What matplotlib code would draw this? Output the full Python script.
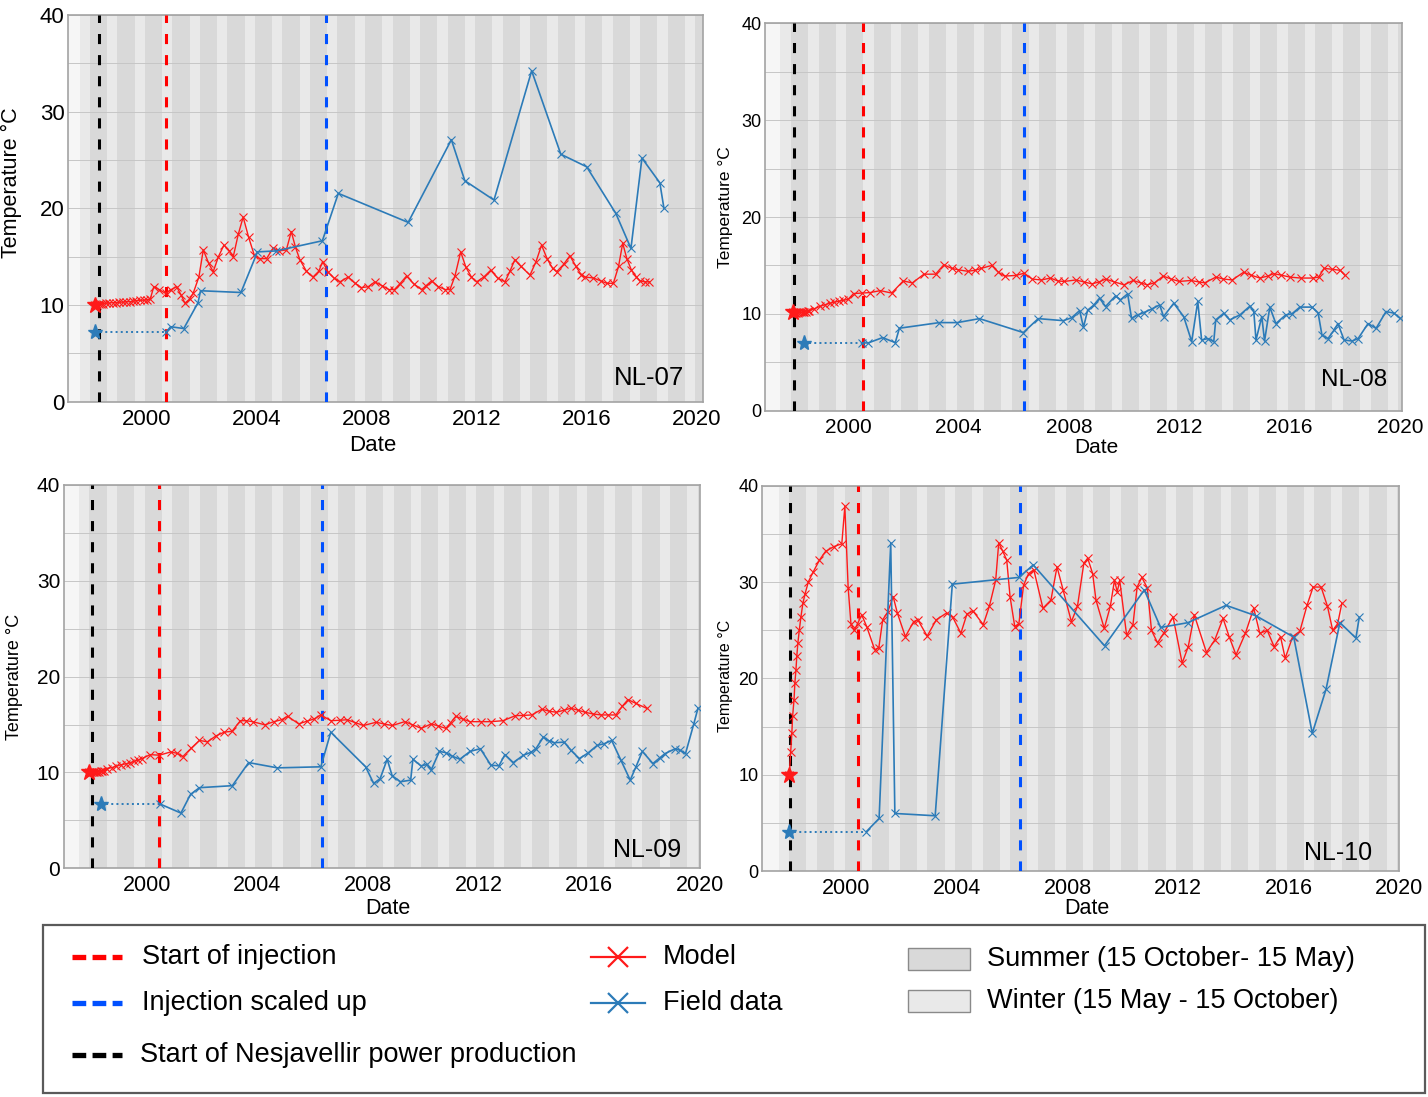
import matplotlib.pyplot as plt
from matplotlib.lines import Line2D
from matplotlib.patches import Rectangle

plt.rcParams['font.family'] = ['Liberation Sans', 'DejaVu Sans']

# ---- data (decimal year, temperature in C) ----
nl07_model = [(1998.10, 10.0), (1998.18, 10.05), (1998.26, 10.1), (1998.34, 10.1), (1998.42, 10.15),
              (1998.50, 10.2), (1998.62, 10.2), (1998.75, 10.25), (1998.88, 10.25), (1999.00, 10.3),
              (1999.12, 10.3), (1999.25, 10.35), (1999.38, 10.35), (1999.50, 10.4), (1999.62, 10.45),
              (1999.75, 10.5), (1999.88, 10.5), (2000.00, 10.55), (2000.12, 10.6),
              (2000.25, 11.9), (2000.45, 11.6), (2000.68, 11.2), (2000.88, 11.6), (2001.08, 11.9),
              (2001.25, 11.0), (2001.38, 10.2), (2001.55, 10.6), (2001.68, 11.2), (2001.89, 12.9),
              (2002.05, 15.7), (2002.25, 14.3), (2002.41, 13.45), (2002.60, 15.0), (2002.80, 16.2),
              (2003.00, 15.6), (2003.14, 15.0), (2003.32, 17.3), (2003.50, 19.1), (2003.70, 17.0),
              (2003.90, 15.2), (2004.10, 14.8), (2004.35, 14.8), (2004.59, 15.9), (2004.80, 15.6),
              (2005.07, 15.7), (2005.25, 17.6), (2005.40, 16.0), (2005.56, 14.7), (2005.80, 13.5),
              (2006.04, 12.9), (2006.25, 13.5), (2006.39, 14.5), (2006.59, 13.4), (2006.80, 12.8),
              (2007.02, 12.4), (2007.32, 12.9), (2007.55, 12.3), (2007.80, 11.8), (2008.05, 11.9),
              (2008.29, 12.4), (2008.55, 12.0), (2008.80, 11.6), (2009.00, 11.6), (2009.20, 12.2),
              (2009.44, 13.0), (2009.70, 12.2), (2009.99, 11.6), (2010.15, 12.0), (2010.35, 12.5),
              (2010.60, 11.9), (2010.85, 11.6), (2011.02, 11.6), (2011.20, 13.0), (2011.41, 15.5),
              (2011.60, 13.9), (2011.80, 12.9), (2011.99, 12.4), (2012.25, 12.9), (2012.50, 13.6),
              (2012.75, 12.8), (2013.02, 12.4), (2013.20, 13.5), (2013.38, 14.7), (2013.60, 14.0),
              (2013.93, 13.1), (2014.15, 14.5), (2014.35, 16.2), (2014.55, 14.8), (2014.75, 13.8),
              (2014.90, 13.45), (2015.15, 14.2), (2015.38, 15.1), (2015.60, 14.0), (2015.80, 13.1),
              (2015.93, 12.9), (2016.23, 12.8), (2016.50, 12.5), (2016.72, 12.25), (2016.96, 12.25),
              (2017.15, 14.0), (2017.30, 16.4), (2017.45, 14.8), (2017.62, 13.6), (2017.80, 12.9),
              (2017.93, 12.5), (2018.10, 12.4), (2018.27, 12.4)]
nl07_field = [(1998.11, 7.2), (2000.70, 7.2), (2000.86, 7.76), (2001.34, 7.57), (2001.86, 10.25),
              (2001.95, 11.48), (2003.42, 11.3), (2004.02, 15.5), (2004.70, 15.6), (2006.38, 16.65),
              (2006.96, 21.55), (2009.50, 18.55), (2011.07, 27.1), (2011.56, 22.86), (2012.62, 20.86),
              (2013.99, 34.23), (2015.05, 25.6), (2015.99, 24.3), (2017.05, 19.48), (2017.60, 15.86),
              (2018.00, 25.2), (2018.65, 22.65), (2018.80, 20.0)]
nl07_events = [1998.24, 2000.68, 2006.53]  # power production, injection start, injection scaled up

nl08_model = [(1998.00, 10.2), (1998.06, 10.1), (1998.12, 10.1), (1998.18, 10.1), (1998.24, 10.15),
              (1998.30, 10.15), (1998.36, 10.15), (1998.42, 10.2), (1998.48, 10.2), (1998.54, 10.25),
              (1998.60, 10.3), (1998.75, 10.5), (1999.00, 10.8), (1999.17, 10.95), (1999.33, 11.1),
              (1999.50, 11.2), (1999.66, 11.3), (1999.83, 11.4), (2000.00, 11.5),
              (2000.20, 12.1), (2000.50, 12.15), (2000.80, 12.2), (2001.17, 12.4), (2001.58, 12.15),
              (2002.00, 13.4), (2002.33, 13.2), (2002.75, 14.1), (2003.17, 14.1), (2003.47, 15.07),
              (2003.75, 14.7), (2004.00, 14.55), (2004.33, 14.4), (2004.60, 14.5), (2004.83, 14.7),
              (2005.20, 15.0), (2005.45, 14.3), (2005.67, 13.9), (2006.08, 13.97), (2006.38, 14.2),
              (2006.67, 13.6), (2007.00, 13.5), (2007.33, 13.7), (2007.60, 13.4), (2007.83, 13.35),
              (2008.25, 13.5), (2008.55, 13.3), (2008.83, 13.1), (2009.10, 13.3), (2009.33, 13.6),
              (2009.65, 13.3), (2010.00, 13.0), (2010.33, 13.45), (2010.60, 13.2), (2010.83, 13.0),
              (2011.10, 13.2), (2011.42, 13.9), (2011.70, 13.6), (2012.00, 13.35), (2012.42, 13.45),
              (2012.70, 13.3), (2012.92, 13.2), (2013.33, 13.8), (2013.60, 13.6), (2013.92, 13.5),
              (2014.33, 14.3), (2014.60, 14.0), (2014.92, 13.7), (2015.20, 13.9), (2015.42, 14.15),
              (2015.70, 14.0), (2016.00, 13.8), (2016.40, 13.7), (2016.83, 13.7), (2017.05, 13.8),
              (2017.25, 14.7), (2017.55, 14.6), (2017.83, 14.5), (2018.00, 14.0)]
nl08_field = [(1998.40, 7.0), (2000.52, 7.0), (2000.73, 7.0), (2001.25, 7.55), (2001.71, 7.03),
              (2001.86, 8.52), (2003.31, 9.1), (2003.96, 9.1), (2004.76, 9.51), (2006.35, 8.07),
              (2006.89, 9.51), (2007.80, 9.3), (2008.10, 9.6), (2008.39, 10.34), (2008.53, 8.62),
              (2008.68, 10.38), (2008.90, 10.9), (2009.11, 11.62), (2009.33, 10.76), (2009.69, 11.86),
              (2009.87, 11.45), (2010.13, 12.07), (2010.27, 9.55), (2010.50, 9.9), (2010.71, 10.13),
              (2011.00, 10.5), (2011.29, 10.93), (2011.43, 9.72), (2011.80, 11.1), (2012.16, 9.72),
              (2012.45, 7.14), (2012.67, 11.3), (2012.81, 7.3), (2013.03, 7.45), (2013.25, 7.14),
              (2013.32, 9.38), (2013.61, 10.06), (2013.83, 9.38), (2014.20, 9.9), (2014.56, 10.8),
              (2014.70, 10.24), (2014.78, 7.3), (2014.99, 9.72), (2015.09, 7.2), (2015.28, 10.7),
              (2015.50, 9.0), (2015.86, 9.9), (2016.08, 10.0), (2016.37, 10.7), (2016.81, 10.7),
              (2017.03, 10.1), (2017.17, 7.8), (2017.39, 7.45), (2017.60, 8.3), (2017.75, 9.0),
              (2017.97, 7.3), (2018.26, 7.2), (2018.48, 7.45), (2018.84, 9.0), (2019.13, 8.5),
              (2019.49, 10.24), (2019.78, 10.07), (2020.00, 9.55)]
nl08_events = [1998.05, 2000.53, 2006.38]

nl09_model = [(1997.93, 10.0), (1997.99, 10.0), (1998.05, 10.0), (1998.10, 10.0), (1998.16, 10.0),
              (1998.22, 10.05), (1998.28, 10.05), (1998.34, 10.1), (1998.40, 10.15), (1998.47, 10.2),
              (1998.57, 10.4), (1998.73, 10.5), (1998.90, 10.65), (1999.07, 10.8), (1999.24, 10.9),
              (1999.40, 11.0), (1999.55, 11.15), (1999.70, 11.3), (1999.83, 11.45), (2000.13, 11.86),
              (2000.46, 11.8), (2000.87, 12.14), (2001.10, 12.0), (2001.31, 11.66), (2001.60, 12.5),
              (2001.91, 13.34), (2002.20, 13.2), (2002.50, 13.8), (2002.80, 14.2), (2003.09, 14.3),
              (2003.39, 15.4), (2003.60, 15.4), (2003.83, 15.3), (2004.28, 14.97), (2004.60, 15.3),
              (2004.88, 15.5), (2005.10, 15.86), (2005.50, 15.07), (2005.80, 15.35), (2006.07, 15.6),
              (2006.30, 16.0), (2006.66, 15.4), (2007.00, 15.45), (2007.25, 15.5), (2007.55, 15.2),
              (2007.84, 14.9), (2008.30, 15.24), (2008.60, 15.05), (2008.89, 14.9), (2009.33, 15.3),
              (2009.60, 15.0), (2009.93, 14.6), (2010.30, 15.07), (2010.55, 14.85), (2010.82, 14.6),
              (2011.00, 15.2), (2011.18, 15.86), (2011.45, 15.55), (2011.70, 15.3), (2012.10, 15.3),
              (2012.45, 15.3), (2012.89, 15.4), (2013.34, 15.93), (2013.60, 15.95), (2013.93, 16.0),
              (2014.30, 16.6), (2014.55, 16.4), (2014.82, 16.28), (2015.10, 16.5), (2015.34, 16.7),
              (2015.60, 16.5), (2015.86, 16.28), (2016.15, 16.1), (2016.45, 16.0), (2016.70, 16.0),
              (2016.97, 16.0), (2017.20, 16.9), (2017.41, 17.6), (2017.70, 17.2), (2018.08, 16.7)]
nl09_field = [(1998.35, 6.69), (2000.50, 6.69), (2001.24, 5.76), (2001.59, 7.72), (2001.91, 8.41),
              (2003.10, 8.62), (2003.69, 11.03), (2004.73, 10.48), (2006.30, 10.59), (2006.66, 14.2),
              (2007.92, 10.59), (2008.21, 8.86), (2008.44, 9.31), (2008.70, 11.38), (2008.88, 9.66),
              (2009.18, 9.03), (2009.55, 9.2), (2009.63, 11.38), (2009.92, 10.69), (2010.14, 10.83),
              (2010.29, 10.24), (2010.59, 12.2), (2010.81, 12.07), (2011.05, 11.7), (2011.33, 11.38),
              (2011.70, 12.2), (2012.07, 12.48), (2012.45, 10.76), (2012.74, 10.69), (2012.96, 11.86),
              (2013.26, 11.03), (2013.63, 11.8), (2013.90, 12.1), (2014.08, 12.48), (2014.35, 13.69),
              (2014.55, 13.3), (2014.75, 13.1), (2015.10, 13.17), (2015.35, 12.3), (2015.65, 11.45),
              (2015.95, 12.0), (2016.30, 12.83), (2016.55, 13.0), (2016.82, 13.34), (2017.15, 11.3),
              (2017.49, 9.2), (2017.70, 10.6), (2017.93, 12.2), (2018.31, 10.93), (2018.55, 11.5),
              (2018.75, 11.97), (2019.12, 12.48), (2019.30, 12.3), (2019.49, 11.97), (2019.79, 15.07),
              (2019.94, 16.69)]
nl09_events = [1998.03, 2000.45, 2006.33]

nl10_model = [(1997.93, 10.0), (1997.98, 12.4), (1998.02, 14.3), (1998.05, 16.1), (1998.10, 17.8),
              (1998.13, 19.5), (1998.17, 20.9), (1998.20, 22.3), (1998.24, 23.7), (1998.29, 25.0),
              (1998.35, 26.4), (1998.42, 27.8), (1998.50, 28.8), (1998.62, 30.05), (1998.80, 31.1),
              (1999.02, 32.3), (1999.24, 33.2), (1999.54, 33.7), (1999.83, 34.0), (1999.94, 37.9),
              (2000.06, 29.4), (2000.16, 25.7), (2000.28, 25.0), (2000.40, 25.7), (2000.55, 26.6),
              (2000.73, 25.4), (2001.02, 23.0), (2001.17, 23.2), (2001.31, 26.1), (2001.49, 26.9),
              (2001.69, 28.5), (2001.84, 26.8), (2002.13, 24.35), (2002.43, 25.9), (2002.58, 26.1),
              (2002.92, 24.4), (2003.25, 26.1), (2003.62, 26.8), (2003.84, 26.4), (2004.14, 24.7),
              (2004.36, 26.7), (2004.58, 27.0), (2004.95, 25.6), (2005.17, 27.5), (2005.40, 30.2),
              (2005.51, 34.1), (2005.66, 33.2), (2005.80, 32.3), (2005.92, 28.5), (2006.09, 25.4),
              (2006.24, 25.7), (2006.41, 29.7), (2006.59, 30.9), (2006.78, 31.3), (2007.11, 27.3),
              (2007.40, 28.15), (2007.62, 31.6), (2007.84, 29.2), (2008.14, 25.9), (2008.36, 27.5),
              (2008.59, 31.95), (2008.73, 32.5), (2008.91, 30.9), (2009.03, 28.15), (2009.33, 25.2),
              (2009.55, 27.5), (2009.70, 30.2), (2009.80, 29.0), (2009.89, 30.2), (2010.14, 24.5),
              (2010.37, 25.6), (2010.52, 29.5), (2010.69, 30.5), (2010.89, 29.4), (2011.04, 25.0),
              (2011.26, 23.7), (2011.48, 24.7), (2011.82, 26.4), (2012.15, 21.6), (2012.37, 23.3),
              (2012.59, 26.6), (2013.03, 22.7), (2013.33, 24.0), (2013.63, 26.25), (2013.85, 24.35),
              (2014.10, 22.45), (2014.44, 24.7), (2014.74, 27.3), (2014.96, 24.7), (2015.23, 25.0),
              (2015.48, 23.3), (2015.71, 24.35), (2015.88, 22.1), (2016.15, 24.35), (2016.41, 24.9),
              (2016.67, 27.6), (2016.89, 29.5), (2017.18, 29.5), (2017.41, 27.5), (2017.60, 25.0),
              (2017.78, 25.7), (2017.93, 27.8)]
nl10_field = [(1997.93, 4.1), (2000.72, 4.1), (2001.18, 5.46), (2001.60, 34.1), (2001.75, 5.98),
              (2003.21, 5.74), (2003.83, 29.8), (2006.24, 30.5), (2006.76, 31.8), (2009.34, 23.4),
              (2010.78, 29.2), (2011.37, 25.3), (2012.36, 25.8), (2013.74, 27.6), (2014.83, 26.5),
              (2016.19, 24.3), (2016.86, 14.3), (2017.36, 18.9), (2017.86, 25.8), (2018.44, 24.2),
              (2018.56, 26.35)]
nl10_events = [1997.95, 2000.42, 2006.27]

years = list(range(1997, 2020))
xtick_years = [2000, 2004, 2008, 2012, 2016, 2020]
ytick_vals = [0, 10, 20, 30, 40]

SUMMER_C = '#d9d9d9'
WINTER_C = '#e9e9e9'
FIELD_C = '#2c7bb8'
MODEL_C = '#ff1a1a'
EVENT_C = ['#000000', '#ff0000', '#0050ff']

fig = plt.figure(figsize=(14.28, 10.97), dpi=100)

panels = [
    # name, model, field, events, rect, xlim, xtick fs, ytick fs, ylabel fs, name fs, name pos,
    # ylabel (x, y), xlabel (x, y)
    ('NL-07', nl07_model, nl07_field, nl07_events, [0.0476, 0.6338, 0.4447, 0.3525], (1997.13, 2020.22),
     16, 16, 15.5, 18.5, (0.97, 0.03), (-0.072, 0.566), (0.48, -0.086)),
    ('NL-08', nl08_model, nl08_field, nl08_events, [0.5357, 0.6256, 0.4461, 0.3531], (1996.99, 2020.07),
     15, 13, 12.5, 17.5, (0.976, 0.05), (-0.05, 0.526), (0.52, -0.07)),
    ('NL-09', nl09_model, nl09_field, nl09_events, [0.0446, 0.2085, 0.4459, 0.3494], (1997.0, 2020.03),
     15.5, 15, 13, 18, (0.969, 0.016), (-0.064, 0.5), (0.509, -0.077)),
    ('NL-10', nl10_model, nl10_field, nl10_events, [0.5336, 0.2060, 0.4461, 0.3510], (1996.94, 2019.97),
     15.5, 13, 11.5, 18, (0.958, 0.016), (-0.046, 0.506), (0.51, -0.07)),
]

for name, model, field, events, rect, xlim, xfs, yfs, ylfs, nfs, npos, ylxy, xlxy in panels:
    ax = fig.add_axes(rect)
    ax.set_facecolor('#f6f6f6')

    # seasonal shading
    for y in years:
        ax.axvspan(y + 0.55, y + 0.93, color=WINTER_C, lw=0, zorder=0)
        ax.axvspan(y + 0.93, y + 1.55, color=SUMMER_C, lw=0, zorder=0)

    ax.set_yticks(range(0, 41, 5), minor=True)
    ax.yaxis.grid(True, which='both', color='#c6c6c6', lw=0.7)
    ax.set_axisbelow(True)

    for ev, c in zip(events, EVENT_C):
        ax.axvline(ev, color=c, lw=2.2, ls=(0, (3.3, 3.6)), zorder=3)

    mt, mT = zip(*model)
    ax.plot(mt, mT, color=MODEL_C, lw=1.0, marker='x', ms=6, mew=0.8, zorder=4)
    ax.plot(mt[0], mT[0], marker='*', color=MODEL_C, ms=12, ls='none', zorder=5)

    ft, fT = zip(*field)
    ax.plot(ft[:2], fT[:2], color=FIELD_C, ls=':', lw=1.4, zorder=4)
    ax.plot(ft[1:], fT[1:], color=FIELD_C, lw=1.2, marker='x', ms=5.5, mew=0.8, zorder=4)
    ax.plot(ft[0], fT[0], marker='*', color=FIELD_C, ms=11, ls='none', zorder=5)

    ax.set_xlim(*xlim)
    ax.set_ylim(0, 40)
    ax.set_xticks(xtick_years)
    ax.set_yticks(ytick_vals)
    ax.tick_params(axis='x', labelsize=xfs, length=0, pad=5)
    ax.tick_params(axis='y', labelsize=yfs, length=0, pad=2.5)
    ax.tick_params(which='minor', length=0)
    for sp in ax.spines.values():
        sp.set_color('#a3a3a3')
        sp.set_linewidth(1.2)

    ax.set_xlabel('Date', fontsize=xfs)
    ax.xaxis.set_label_coords(*xlxy)
    ax.set_ylabel('Temperature °C', fontsize=ylfs)
    ax.yaxis.set_label_coords(*ylxy)
    ax.text(npos[0], npos[1], name, transform=ax.transAxes, ha='right', va='bottom', fontsize=nfs, zorder=6)

# ---- legend box ----
W, H = 1428.0, 1097.0


def fx(px):
    return px / W


def fy(py):
    return 1 - py / H


fig.add_artist(Rectangle((fx(43), fy(1093)), fx(1425) - fx(43), fy(925) - fy(1093),
                         transform=fig.transFigure, fill=False, ec='#5a5a5a', lw=1.6))

LEG_FS = 19.5
dash_entries = [('Start of injection', EVENT_C[1], 957, 142),
                ('Injection scaled up', EVENT_C[2], 1003, 142),
                ('Start of Nesjavellir power production', EVENT_C[0], 1055, 140)]
for label, c, py, tx in dash_entries:
    fig.add_artist(Line2D([fx(72), fx(122)], [fy(py), fy(py)], transform=fig.transFigure,
                          color=c, lw=3.8, ls=(0, (2.6, 1.2))))
    fig.text(fx(tx), fy(py), label, fontsize=LEG_FS, va='center', ha='left')

for label, c, py in [('Model', MODEL_C, 957), ('Field data', FIELD_C, 1003)]:
    fig.add_artist(Line2D([fx(591), fx(645)], [fy(py), fy(py)], transform=fig.transFigure, color=c, lw=1.6))
    fig.add_artist(Line2D([fx(618)], [fy(py)], transform=fig.transFigure, color=c, marker='x',
                          ms=15, mew=1.6, ls='none'))
    fig.text(fx(663), fy(py), label, fontsize=LEG_FS, va='center', ha='left')

for label, c, py in [('Summer (15 October- 15 May)', SUMMER_C, 959),
                     ('Winter (15 May - 15 October)', WINTER_C, 1001)]:
    fig.add_artist(Rectangle((fx(908), fy(py + 11)), fx(970) - fx(908), fy(py - 11) - fy(py + 11),
                             transform=fig.transFigure, fc=c, ec='#8a8a8a', lw=1.0))
    fig.text(fx(987), fy(py), label, fontsize=LEG_FS, va='center', ha='left')

plt.savefig('out.png', dpi=100)
